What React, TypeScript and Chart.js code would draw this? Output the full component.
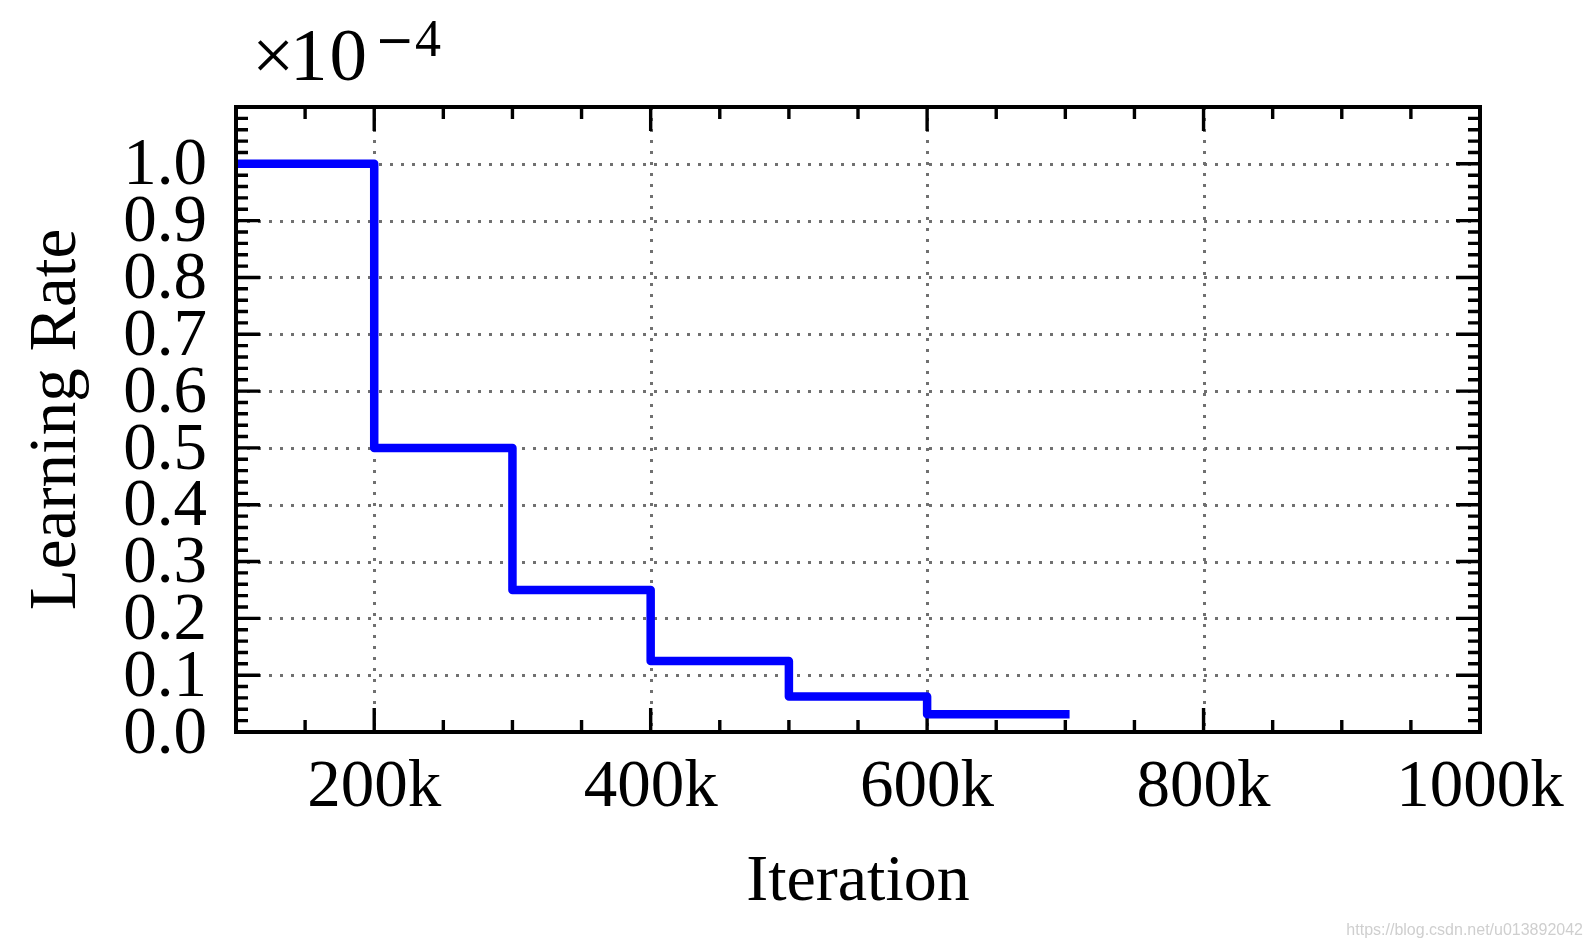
import React, { useEffect, useRef } from "react";
import { Chart, registerables } from "chart.js";

Chart.register(...registerables);

// ---- data ----
const iterations = [100000, 200000, 300000, 400000, 500000, 600000, 700000];
const learningRate = [1.0, 0.5, 0.25, 0.125, 0.0625, 0.03125, 0.03125];

// ---- axes ----
const xMin = 100000;
const xMax = 1000000;
const xMajorStep = 200000;
const xMinorStep = 50000;
const yMin = 0;
const yMax = 1.1;
const yMajorStep = 0.1;
const yMinorStep = 0.02;
const yLabelMax = 1.0;

const xTitle = "Iteration";
const yTitle = "Learning Rate";
const offsetTimes = "\u00d7";
const offsetTen = "10";
const offsetMinus = "\u2212";
const offsetPower = "4";
const watermark = "https://blog.csdn.net/u013892042";

const W = 1593;
const H = 947;
const SERIF = '"Liberation Serif", "Times New Roman", serif';
const LINE_WIDTH = 8.5;

// multiples of step inside [min, max]
function multiples(min: number, max: number, step: number): number[] {
  const out: number[] = [];
  const start = Math.ceil(min / step - 1e-9);
  const end = Math.floor(max / step + 1e-9);
  for (let i = start; i <= end; i++) out.push(+(i * step).toFixed(6));
  return out;
}

const mplPlugin = {
  id: "mplStyle",
  beforeDatasetsDraw(chart: any) {
    const { ctx, chartArea: a, scales } = chart;
    const x = scales.x;
    const y = scales.y;
    ctx.save();
    // dotted grid at major ticks
    ctx.strokeStyle = "#707070";
    ctx.lineWidth = 3;
    ctx.lineCap = "butt";
    ctx.setLineDash([3, 8]);
    x.ticks.forEach((t: any) => {
      const px = Math.round(x.getPixelForValue(t.value)) + 0.5;
      if (px <= a.left + 2 || px >= a.right - 2) return;
      ctx.beginPath();
      ctx.moveTo(px, Math.round(a.top));
      ctx.lineTo(px, a.bottom);
      ctx.stroke();
    });
    y.ticks.forEach((t: any) => {
      const py = Math.round(y.getPixelForValue(t.value)) + 0.5;
      if (py <= a.top + 2 || py >= a.bottom - 2) return;
      ctx.beginPath();
      ctx.moveTo(Math.round(a.left), py);
      ctx.lineTo(a.right, py);
      ctx.stroke();
    });

    // inward tick marks on all four sides (below the data line)
    const majorLen = 24;
    const minorLen = 12;
    ctx.setLineDash([]);
    ctx.strokeStyle = "#000";
    ctx.lineWidth = 3.4;
    const xMajors = multiples(xMin, xMax, xMajorStep);
    multiples(xMin, xMax, xMinorStep).forEach((v) => {
      const px = x.getPixelForValue(v);
      const len = xMajors.includes(v) ? majorLen : minorLen;
      ctx.beginPath();
      ctx.moveTo(px, a.bottom);
      ctx.lineTo(px, a.bottom - len);
      ctx.moveTo(px, a.top);
      ctx.lineTo(px, a.top + len);
      ctx.stroke();
    });
    const yMajors = multiples(yMin, yMax, yMajorStep);
    multiples(yMin, yMax, yMinorStep).forEach((v) => {
      const py = y.getPixelForValue(v);
      const len = yMajors.some((m) => Math.abs(m - v) < 1e-6) ? majorLen : minorLen;
      ctx.beginPath();
      ctx.moveTo(a.left, py);
      ctx.lineTo(a.left + len, py);
      ctx.moveTo(a.right, py);
      ctx.lineTo(a.right - len, py);
      ctx.stroke();
    });
    ctx.restore();
  },
  afterDatasetsDraw(chart: any) {
    const { ctx, chartArea: a } = chart;
    ctx.save();
    ctx.setLineDash([]);
    ctx.strokeStyle = "#000";
    ctx.lineWidth = 4;
    ctx.strokeRect(a.left, a.top, a.right - a.left, a.bottom - a.top);
    ctx.restore();
  },
  afterDraw(chart: any) {
    const { ctx, chartArea: a } = chart;
    ctx.save();
    ctx.fillStyle = "#000";
    ctx.textAlign = "left";
    ctx.textBaseline = "alphabetic";
    const by = a.top - 27;
    const sy = a.top - 51;
    ctx.font = `75px ${SERIF}`;
    ctx.fillText(offsetTimes, a.left + 16, by);
    (ctx as any).letterSpacing = "2px";
    ctx.fillText(offsetTen, a.left + 54, by);
    (ctx as any).letterSpacing = "0px";
    ctx.font = '47px "DejaVu Sans"';
    ctx.fillText(offsetMinus, a.left + 139, sy);
    ctx.font = `52px ${SERIF}`;
    ctx.fillText(offsetPower, a.left + 179, sy);

    ctx.fillStyle = "#cfcfcf";
    ctx.font = '16px "Liberation Sans", Arial, sans-serif';
    ctx.textAlign = "right";
    ctx.fillText(watermark, W - 10, H - 12);
    ctx.restore();
  },
};

export default function App() {
  const canvasRef = useRef<HTMLCanvasElement | null>(null);

  useEffect(() => {
    const canvas = canvasRef.current;
    if (!canvas) return;
    const points = iterations.map((it, i) => ({ x: it, y: learningRate[i] }));
    const chart = new Chart(canvas, {
      type: "line",
      data: {
        datasets: [
          {
            data: points,
            borderColor: "#0000ff",
            backgroundColor: "#0000ff",
            borderWidth: LINE_WIDTH,
            borderCapStyle: "square",
            borderJoinStyle: "round",
            pointRadius: 0,
            stepped: true,
            fill: false,
            tension: 0,
            clip: 0,
          },
        ],
      },
      options: {
        responsive: false,
        maintainAspectRatio: false,
        devicePixelRatio: 1,
        animation: false,
        elements: {
          line: { borderWidth: LINE_WIDTH },
        },
        layout: { padding: { top: 107, right: 113, left: 0, bottom: 0 } },
        plugins: {
          legend: { display: false },
          tooltip: { enabled: false },
        },
        scales: {
          x: {
            type: "linear",
            min: xMin,
            max: xMax,
            grid: { display: false, drawTicks: false, tickLength: 0 },
            border: { display: false },
            afterBuildTicks: (scale: any) => {
              scale.ticks = multiples(xMin, xMax, xMajorStep)
                .filter((v) => v > xMin)
                .map((v) => ({ value: v }));
            },
            afterFit: (scale: any) => {
              scale.height = 215;
            },
            ticks: {
              autoSkip: false,
              maxRotation: 0,
              padding: 23,
              color: "#000",
              font: { family: SERIF, size: 67, lineHeight: 1 },
              callback: (v: any) => `${Math.round(Number(v) / 1000)}k`,
            },
            title: {
              display: true,
              text: xTitle,
              color: "#000",
              font: { family: SERIF, size: 66, lineHeight: 1 },
              padding: { top: 0, bottom: 31 },
            },
          },
          y: {
            type: "linear",
            min: yMin,
            max: yMax,
            grid: { display: false, drawTicks: false, tickLength: 0 },
            border: { display: false },
            afterBuildTicks: (scale: any) => {
              scale.ticks = multiples(yMin, yLabelMax, yMajorStep).map((v) => ({ value: v }));
            },
            afterFit: (scale: any) => {
              scale.width = 236;
            },
            ticks: {
              autoSkip: false,
              padding: 29,
              labelOffset: 3,
              color: "#000",
              font: { family: SERIF, size: 67, lineHeight: 1 },
              callback: (v: any) => Number(v).toFixed(1),
            },
            title: {
              display: true,
              text: yTitle,
              color: "#000",
              font: { family: SERIF, size: 67, lineHeight: 1 },
              padding: { top: 24, bottom: 0 },
            },
          },
        },
      },
      plugins: [mplPlugin],
    } as any);
    return () => chart.destroy();
  }, []);

  return (
    <div style={{ position: "fixed", left: 0, top: 0, width: W, height: H, background: "#fff" }}>
      <canvas ref={canvasRef} width={W} height={H} style={{ display: "block", width: W, height: H }} />
    </div>
  );
}
